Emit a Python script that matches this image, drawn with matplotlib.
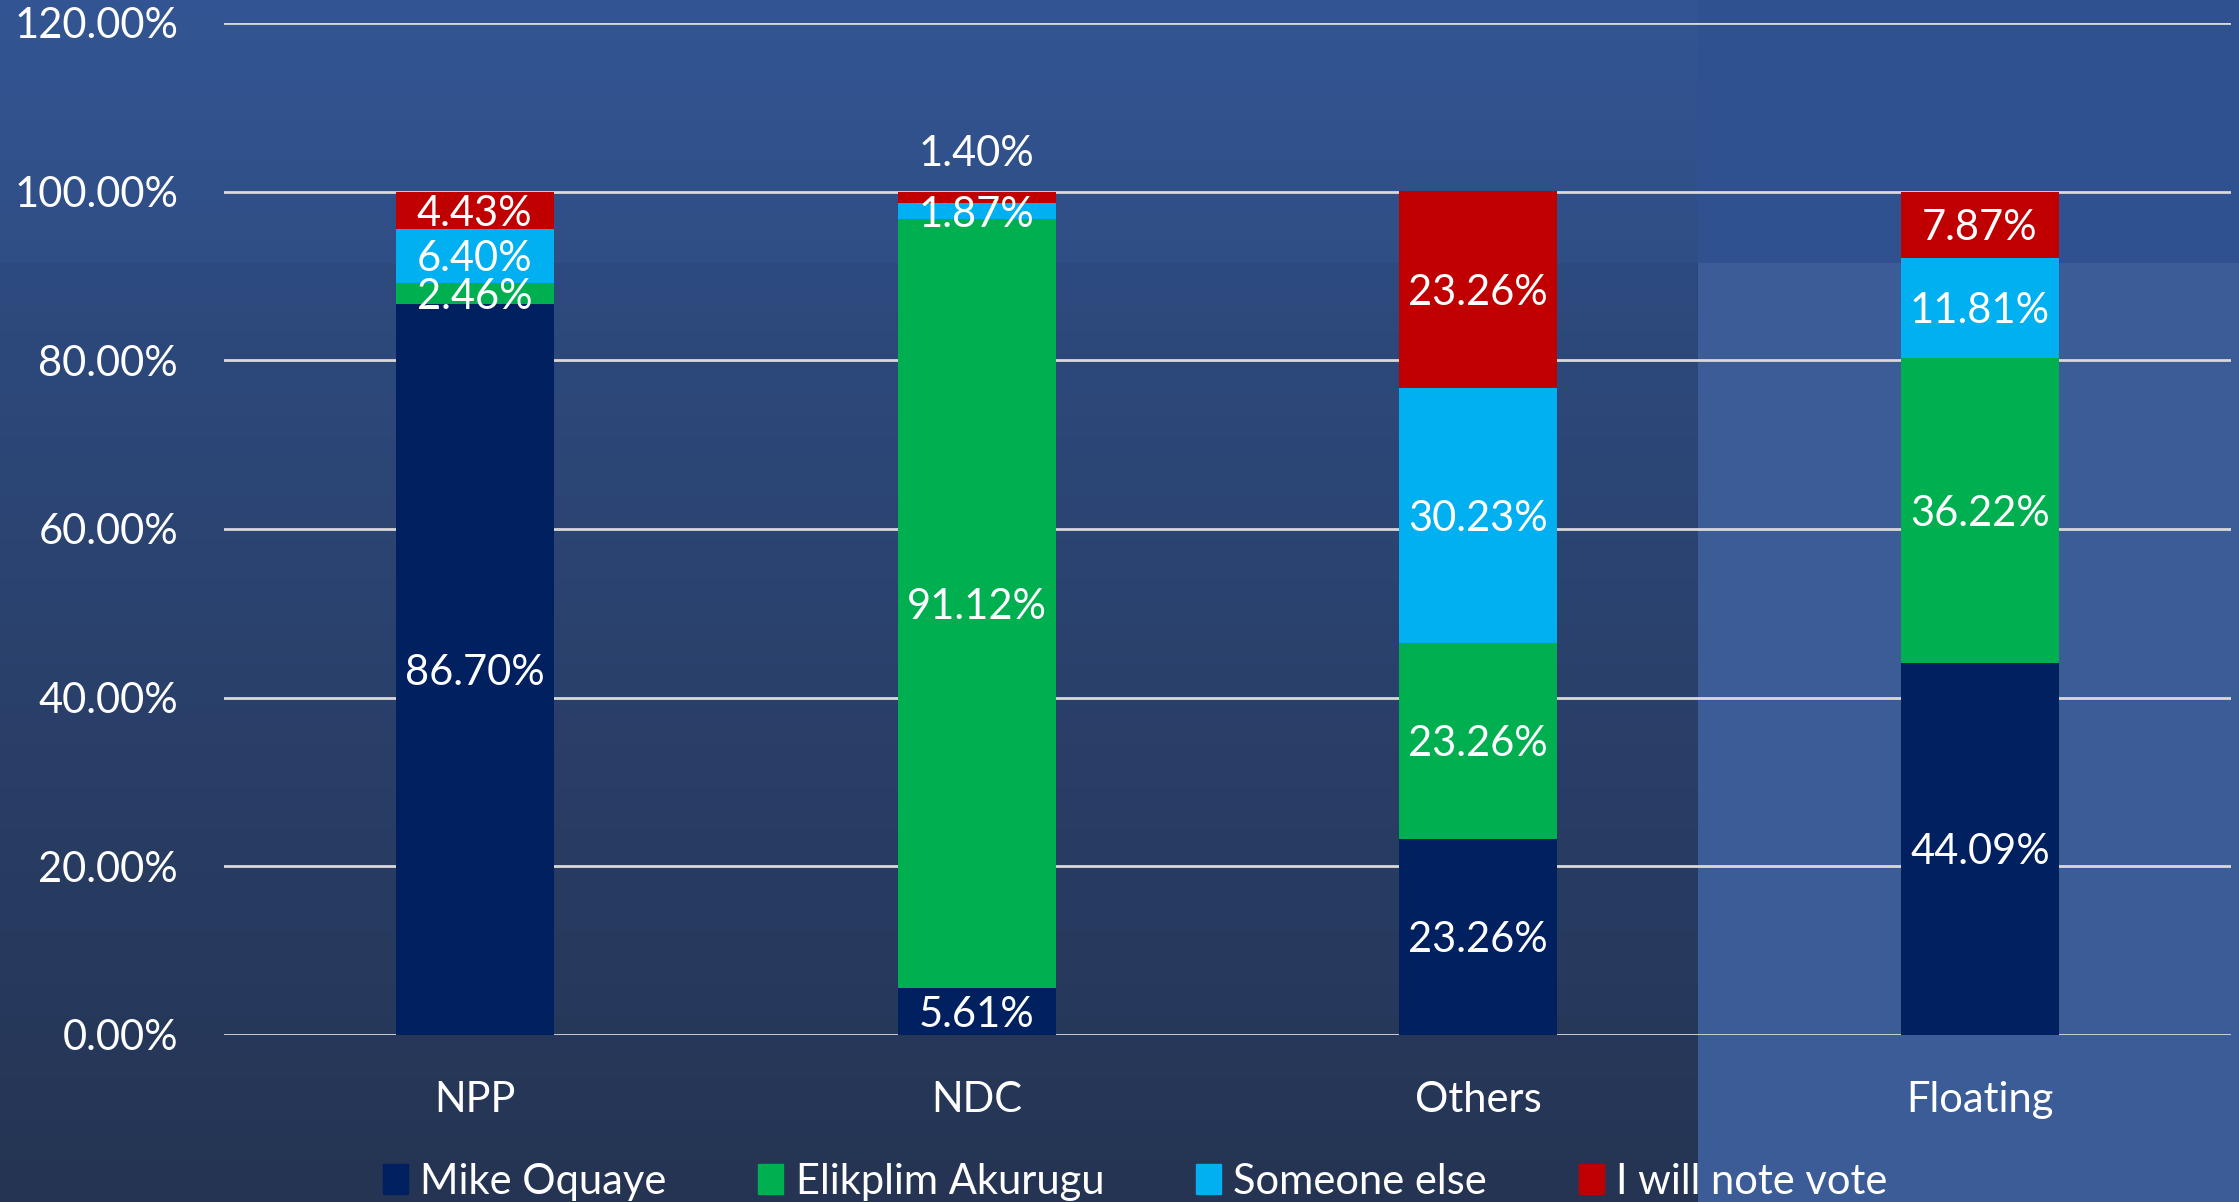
import numpy as np
import matplotlib
matplotlib.use("Agg")
from matplotlib import pyplot as plt
from matplotlib.patches import Patch

categories = ["NPP", "NDC", "Others", "Floating"]
series_names = ["Mike Oquaye", "Elikplim Akurugu", "Someone else", "I will note vote"]
mike = [86.70, 5.61, 23.26, 44.09]
elikplim = [2.46, 91.12, 23.26, 36.22]
someone = [6.40, 1.87, 30.23, 11.81]
novote = [4.43, 1.40, 23.26, 7.87]
colors = ["#002060", "#00B050", "#00B0F0", "#C00000"]
yticks = [0, 20, 40, 60, 80, 100, 120]

plt.rcParams['font.family'] = ['Lato', 'DejaVu Sans']

fig = plt.figure(figsize=(22.39, 12.02), dpi=100)

# slide background: vertical gradient plus lighter panels
bg = fig.add_axes([0, 0, 1, 1], zorder=-10)
bg.axis("off")
h, w = 1202, 2239
t = np.linspace(0, 1, h)[:, None, None]
top = np.array([0x30, 0x51, 0x8c]) / 255.0
bot = np.array([0x25, 0x34, 0x52]) / 255.0
img = top * (1 - t) + bot * t
img = np.repeat(img, w, axis=1)
split = 1698
band = 263
img[:band, :split] = img[:band, :split] * 1.05
img[:band, split:] = np.array([0x30, 0x51, 0x8f]) / 255.0
img[band:, split:] = np.array([0x3b, 0x5c, 0x96]) / 255.0
img = np.clip(img, 0, 1)
bg.imshow(img, aspect="auto", extent=[0, 1, 0, 1])
bg.set_xlim(0, 1)
bg.set_ylim(0, 1)

ax = fig.add_axes([0.100, 0.139, 0.8964, 0.842])
ax.patch.set_alpha(0)

x = np.arange(len(categories))
width = 0.315
series = [mike, elikplim, someone, novote]
bottom = np.zeros(len(categories))
for vals, col, name in zip(series, colors, series_names):
    vals = np.array(vals)
    ax.bar(x, vals, width, bottom=bottom, color=col, label=name, zorder=3)
    for i in range(len(categories)):
        yc = bottom[i] + vals[i] / 2
        if categories[i] == "NDC" and name == "I will note vote":
            yc = 104.9
        ax.text(x[i], yc, "%.2f%%" % vals[i], ha="center", va="center_baseline",
                color="white", fontsize=30, zorder=5)
    bottom = bottom + vals

ax.set_ylim(0, 120)
ax.set_xlim(-0.5, 3.5)
ax.set_yticks(yticks)
ax.set_yticklabels(["%.2f%%" % v for v in yticks])
ax.set_xticks(x)
ax.set_xticklabels(categories)
ax.tick_params(axis="y", length=0, pad=33, labelsize=30, labelcolor="white")
ax.tick_params(axis="x", length=0, pad=33, labelsize=30, labelcolor="white")
ax.grid(axis="y", color="#d9d9d9", linewidth=2, zorder=0)
for s in ax.spines.values():
    s.set_visible(False)

handles = [Patch(color=c) for c in colors]
fig.legend(handles, series_names, loc="lower center", bbox_to_anchor=(0.507, -0.03),
           ncol=4, frameon=False, fontsize=30, labelcolor="white",
           handlelength=0.6, handleheight=0.7, handletextpad=0.3, columnspacing=2.2)

fig.savefig("out.png", dpi=100)
